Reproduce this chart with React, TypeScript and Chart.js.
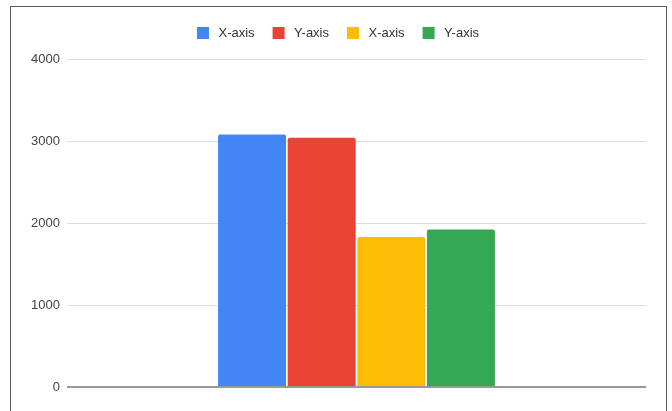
import React, { useEffect, useRef } from "react";
import { Chart, registerables } from "chart.js";

Chart.register(...registerables);

const categories: string[] = [""];
const seriesLabels: string[] = ["X-axis", "Y-axis", "X-axis", "Y-axis"];
const seriesColors: string[] = ["#4285F4", "#EA4335", "#FBBC04", "#34A853"];
const seriesValues: number[][] = [[3080], [3040], [1830], [1920]];
const yTicks: number[] = [0, 1000, 2000, 3000, 4000];

const FONT = "Arial, 'Liberation Sans', sans-serif";

const legendMargin = {
  id: "legendMargin",
  beforeInit(chart: any) {
    const legend = chart.legend;
    if (!legend) return;
    const orig = legend.fit;
    legend.fit = function () {
      orig.call(this);
      this.height += 7;
    };
  },
};

export default function App() {
  const ref = useRef<HTMLCanvasElement | null>(null);
  useEffect(() => {
    if (!ref.current) return;
    const chart = new Chart(ref.current, {
      type: "bar",
      data: {
        labels: categories,
        datasets: seriesLabels.map((label, i) => ({
          label,
          data: seriesValues[i],
          backgroundColor: seriesColors[i],
          borderWidth: 0,
          borderRadius: 2,
          borderSkipped: "bottom" as const,
          categoryPercentage: 0.481,
          barPercentage: 0.976,
        })),
      },
      options: {
        responsive: false,
        animation: false,
        devicePixelRatio: 1,
        layout: { padding: { top: 2, right: 20, bottom: 24, left: 16 } },
        plugins: {
          tooltip: { enabled: false },
          legend: {
            position: "top",
            align: "center",
            labels: {
              font: { family: FONT, size: 13 },
              color: "#333",
              boxWidth: 18,
              boxHeight: 18,
              padding: 15,
              generateLabels: (c: any) =>
                Chart.defaults.plugins.legend.labels
                  .generateLabels(c)
                  .map((it: any) => ({ ...it, lineWidth: 6, strokeStyle: "#ffffff" })),
            },
          },
        },
        scales: {
          x: {
            display: false,
            grid: { display: false },
          },
          y: {
            min: 0,
            max: 4000,
            afterFit: (s: any) => {
              s.width = 40;
            },
            afterBuildTicks: (s: any) => {
              s.ticks = yTicks.map((v) => ({ value: v }));
            },
            border: { display: false },
            grid: {
              drawTicks: false,
              color: (ctx: any) => (ctx.tick && ctx.tick.value === 0 ? "#999999" : "#dddddd"),
              lineWidth: (ctx: any) => (ctx.tick && ctx.tick.value === 0 ? 2 : 1),
            },
            ticks: {
              padding: 7,
              color: "#444",
              font: { family: FONT, size: 13 },
              callback: (v: any) => String(v),
            },
          },
        },
      },
      plugins: [legendMargin],
    });
    return () => chart.destroy();
  }, []);

  return (
    <div
      style={{
        position: "fixed",
        left: 10,
        top: 6,
        width: 655,
        height: 406,
        borderLeft: "1px solid #5a5a5a",
        borderTop: "1px solid #5a5a5a",
        borderRight: "1px solid #5a5a5a",
        background: "#fff",
      }}
    >
      <canvas ref={ref} width={655} height={404} style={{ display: "block" }} />
    </div>
  );
}
